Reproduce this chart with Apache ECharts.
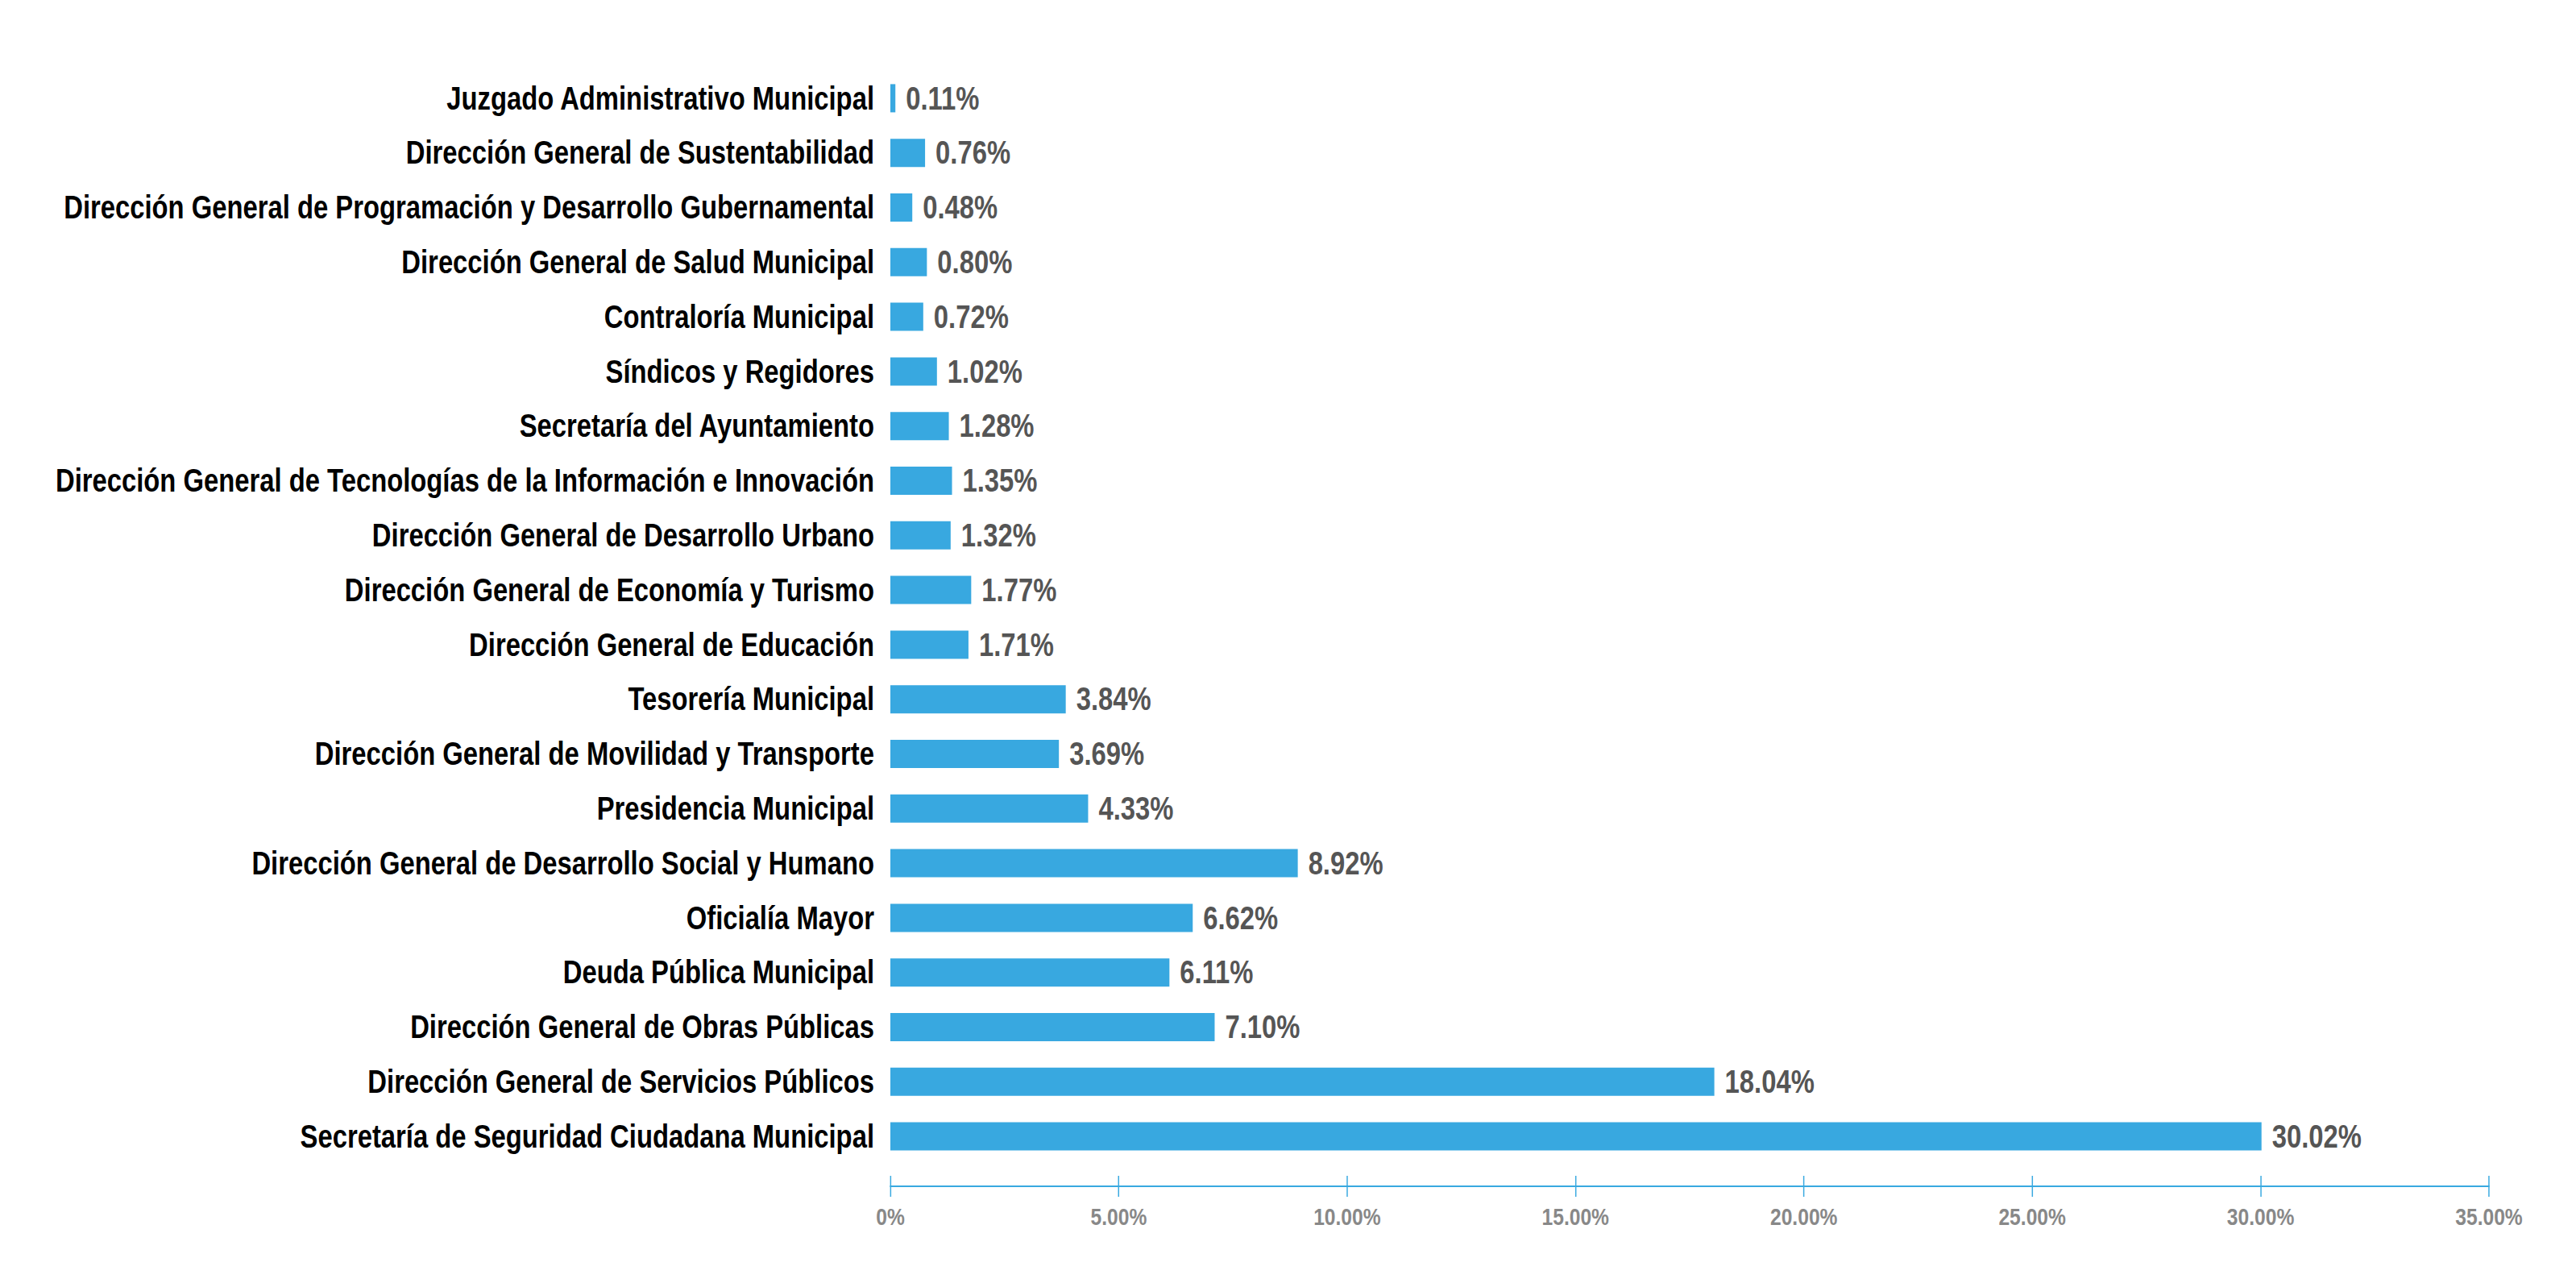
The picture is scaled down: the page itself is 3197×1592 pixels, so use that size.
<!DOCTYPE html>
<html>
<head>
<meta charset="utf-8">
<script src="https://cdn.jsdelivr.net/npm/echarts@6/dist/echarts.min.js"></script>
<style>
html,body{margin:0;padding:0;background:#fff;overflow:hidden;}
#wrap{width:3197px;height:1592px;overflow:hidden;position:relative;}
#chart{position:absolute;left:0;top:0;height:1592px;transform-origin:0 0;}
</style>
</head>
<body>
<div id="wrap"><div id="chart"></div></div>
<script>
const categories = [
  'Juzgado Administrativo Municipal',
  'Dirección General de Sustentabilidad',
  'Dirección General de Programación y Desarrollo Gubernamental',
  'Dirección General de Salud Municipal',
  'Contraloría Municipal',
  'Síndicos y Regidores',
  'Secretaría del Ayuntamiento',
  'Dirección General de Tecnologías de la Información e Innovación',
  'Dirección General de Desarrollo Urbano',
  'Dirección General de Economía y Turismo',
  'Dirección General de Educación',
  'Tesorería Municipal',
  'Dirección General de Movilidad y Transporte',
  'Presidencia Municipal',
  'Dirección General de Desarrollo Social y Humano',
  'Oficialía Mayor',
  'Deuda Pública Municipal',
  'Dirección General de Obras Públicas',
  'Dirección General de Servicios Públicos',
  'Secretaría de Seguridad Ciudadana Municipal'
];
const values = [0.11, 0.76, 0.48, 0.80, 0.72, 1.02, 1.28, 1.35, 1.32, 1.77, 1.71, 3.84, 3.69, 4.33, 8.92, 6.62, 6.11, 7.10, 18.04, 30.02];
const xTicks = { min: 0, max: 35, interval: 5 };

// Narrow-font look: render wider and compress horizontally (Arial Narrow ≈ 0.82 × Arial)
const S = 0.82;
const W = 3197 / S;
const el = document.getElementById('chart');
el.style.width = W + 'px';
el.style.transform = 'scaleX(' + S + ')';

const FONT = "'Liberation Sans', Arial, sans-serif";
const chart = echarts.init(el, null, {renderer: 'svg', width: W, height: 1592});
const fmtTick = v => v === 0 ? '0%' : v.toFixed(2) + '%';
const baseX = {
  type: 'value', min: xTicks.min, max: xTicks.max, interval: xTicks.interval,
  position: 'bottom', offset: 28,
  splitLine: {show: false}
};
chart.setOption({
  animation: false,
  grid: {left: 1105 / S, right: 108 / S, top: 88, bottom: 148, containLabel: false, outerBoundsMode: 'none'},
  xAxis: [
    Object.assign({}, baseX, {
      axisLine: {show: true, lineStyle: {color: '#39a9e0', width: 2}},
      axisTick: {show: true, inside: false, length: 13, lineStyle: {color: '#39a9e0', width: 1.8}},
      axisLabel: {show: true, formatter: fmtTick, color: '#888888', fontFamily: FONT, fontWeight: 'bold', fontSize: 30, margin: 23}
    }),
    Object.assign({}, baseX, {
      axisLine: {show: false},
      axisTick: {show: true, inside: true, length: 13, lineStyle: {color: '#39a9e0', width: 1.8}},
      axisLabel: {show: false}
    })
  ],
  yAxis: {
    type: 'category', data: categories, inverse: true,
    axisLine: {show: false}, axisTick: {show: false}, splitLine: {show: false},
    axisLabel: {color: '#000000', fontFamily: FONT, fontWeight: 'bold', fontSize: 40, margin: 20 / S}
  },
  series: [{
    type: 'bar', data: values, xAxisIndex: 0, barWidth: 35,
    itemStyle: {color: '#38a8e0'},
    label: {show: true, position: 'right', distance: 13 / S, formatter: p => p.value.toFixed(2) + '%',
      color: '#555555', fontFamily: FONT, fontWeight: 'bold', fontSize: 40}
  }]
});
</script>
</body>
</html>
